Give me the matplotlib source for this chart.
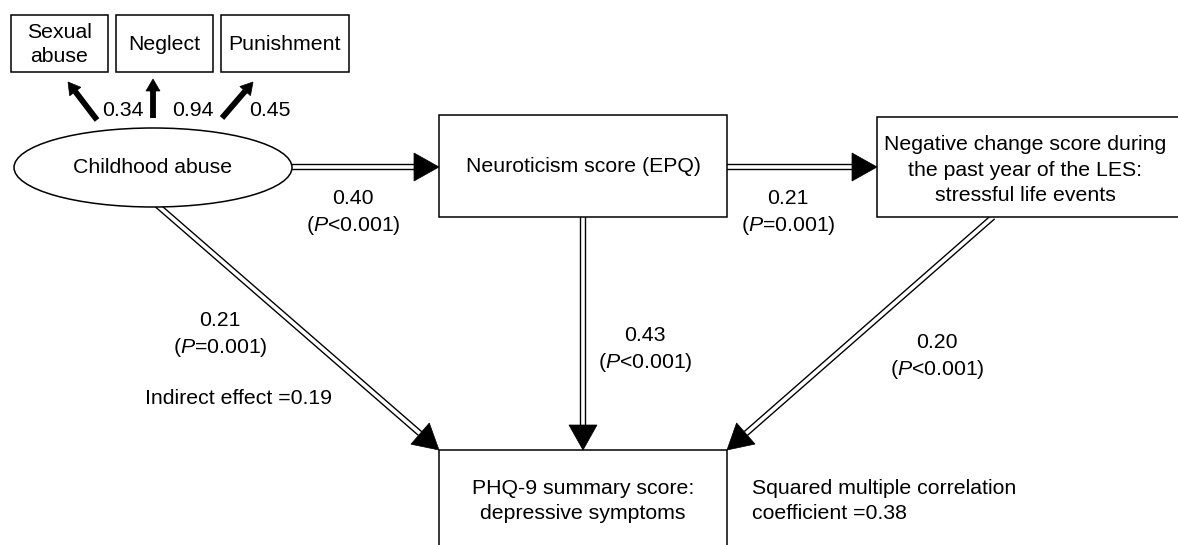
import numpy as np
import matplotlib
matplotlib.use("Agg")
import matplotlib.pyplot as plt
from matplotlib.patches import Rectangle, Ellipse, Polygon

plt.rcParams['font.family'] = ['Liberation Sans', 'DejaVu Sans']
plt.rcParams['mathtext.fontset'] = 'custom'
plt.rcParams['mathtext.rm'] = 'Liberation Sans'
plt.rcParams['mathtext.it'] = 'Liberation Sans:italic'

# indicator boxes: (label, left, top, right, bottom)
indicators = ["Sexual\nabuse", "Neglect", "Punishment"]
ind_boxes = [(11, 15, 108, 72), (116, 15, 213, 72), (221, 15, 349, 72)]
loadings = ["0.34", "0.94", "0.45"]
load_arrows = [((97, 120), (68, 82)), ((153, 118), (153, 79)), ((222, 118), (253, 82))]
load_label_x = [123, 193, 270]

# main boxes
boxes = {
    "neuro": (439, 115, 727, 217),
    "les": (877, 117, 1192, 217),
    "phq": (439, 450, 727, 565),
}
box_text = {
    "neuro": "Neuroticism score (EPQ)",
    "les": "Negative change score during\nthe past year of the LES:\nstressful life events",
    "phq": "PHQ-9 summary score:\ndepressive symptoms",
}
box_text_y = {"neuro": 167, "les": 170, "phq": 501}
box_text_x = {"neuro": 583, "les": 1025, "phq": 583}
box_ls = {"neuro": 1.3, "les": 1.42, "phq": 1.34}

latent = "Childhood abuse"
latent_center = (153, 167.5)
latent_size = (278, 79)

# structural paths: start, tip
paths = [((292, 167), (439, 167)),
         ((727, 167), (877, 167)),
         ((583, 217), (583, 450)),
         ((157, 205), (439, 450)),
         ((993, 217), (727, 450))]

coef_labels = [("0.40\n($\\mathit{P}$<0.001)", 353, 213, 'center'),
               ("0.21\n($\\mathit{P}$=0.001)", 788, 213, 'center'),
               ("0.43\n($\\mathit{P}$<0.001)", 598, 350, 'left'),
               ("0.21\n($\\mathit{P}$=0.001)", 220, 335, 'center'),
               ("0.20\n($\\mathit{P}$<0.001)", 890, 357, 'left')]
notes = [("Indirect effect =0.19", 145, 398),
         ("Squared multiple correlation\ncoefficient =0.38", 752, 501)]

fs = 15.3

fig = plt.figure(figsize=(11.78, 5.45), dpi=100)
ax = fig.add_axes([0, 0, 1, 1])
ax.set_xlim(0, 1178)
ax.set_ylim(545, 0)
ax.axis('off')


def head(tip, d, L, W):
    d = np.asarray(d, float)
    d = d / np.hypot(*d)
    n = np.array([-d[1], d[0]])
    t = np.asarray(tip, float)
    b = t - L * d
    ax.add_patch(Polygon([t, b + W * n, b - W * n], closed=True, fc='black', ec='black', lw=0.5, zorder=4))
    return b


def double_arrow(p0, p1):
    d = np.subtract(p1, p0)
    b = head(p1, d, 25, 14)
    ax.plot([p0[0], b[0]], [p0[1], b[1]], color='black', lw=4.6, solid_capstyle='butt', zorder=1)
    ax.plot([p0[0], b[0]], [p0[1], b[1]], color='white', lw=2.6, solid_capstyle='butt', zorder=1.5)


def solid_arrow(p0, p1):
    d = np.subtract(p1, p0)
    b = head(p1, d, 12, 7)
    ax.plot([p0[0], b[0]], [p0[1], b[1]], color='black', lw=4.2, solid_capstyle='butt', zorder=3)


for lab, (l, t, r, bt) in zip(indicators, ind_boxes):
    ax.add_patch(Rectangle((l, t), r - l, bt - t, fc='white', ec='black', lw=1.1, zorder=2))
    ax.text((l + r) / 2, (t + bt) / 2 + 1, lab, ha='center', va='center', fontsize=fs,
            linespacing=1.34, zorder=5)

for (p0, p1), lab, lx in zip(load_arrows, loadings, load_label_x):
    solid_arrow(p0, p1)
    ax.text(lx, 111, lab, ha='center', va='center', fontsize=fs, zorder=5)

for k, (l, t, r, bt) in boxes.items():
    ax.add_patch(Rectangle((l, t), r - l, bt - t, fc='white', ec='black', lw=1.1, zorder=2))
    ax.text(box_text_x[k], box_text_y[k], box_text[k], ha='center', va='center',
            fontsize=fs, linespacing=box_ls[k], zorder=5)

ax.add_patch(Ellipse(latent_center, *latent_size, fc='white', ec='black', lw=1.1, zorder=2))
ax.text(latent_center[0], latent_center[1], latent, ha='center', va='center', fontsize=fs, zorder=5)

for p0, p1 in paths:
    double_arrow(p0, p1)

for txt, x, y, ha in coef_labels:
    ax.text(x, y, txt, ha=ha, va='center', fontsize=fs, linespacing=1.34,
            multialignment='center', zorder=5)

for txt, x, y in notes:
    ax.text(x, y, txt, ha='left', va='center', fontsize=fs, linespacing=1.39, zorder=5)

fig.savefig("out.png", dpi=100)
